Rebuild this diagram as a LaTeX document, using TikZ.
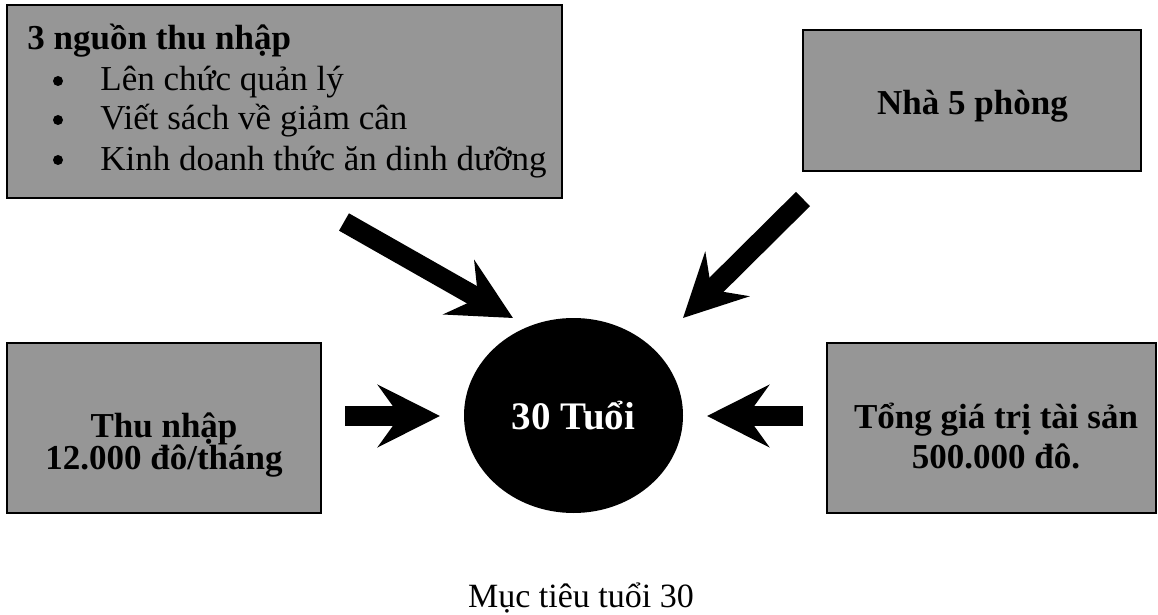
\documentclass[tikz,border=0pt]{standalone}
\usepackage{fontspec}
\setmainfont{Liberation Serif}
\usetikzlibrary{arrows.meta, shapes.geometric}
\definecolor{boxgray}{RGB}{150,150,150}

\begin{document}
\begin{tikzpicture}[x=0.5pt, y=-0.5pt,
        box/.style={draw, line width=1pt, fill=boxgray, inner sep=0pt},
        boxtext/.style={inner sep=0pt, anchor=base, font=\fontsize{17.5}{21}\selectfont\bfseries},
        listtext/.style={inner sep=0pt, anchor=base west, font=\fontsize{17.5}{21}\selectfont},
        listdot/.style={circle, fill=black, inner sep=0pt, minimum size=5pt},
        fat arrow/.style={line width=10pt, -{Stealth[length=31pt, width=31pt, inset=11pt]}}]

    \useasboundingbox (0,0) rectangle (1158,615);

    % the four goals
    \node[box, minimum width=277.5pt, minimum height=96.5pt] (incomes) at (284.5,101.5) {};
    \node[box, minimum width=169pt, minimum height=70.5pt] (house) at (972,100.5) {};
    \node[box, minimum width=157pt, minimum height=85pt] (salary) at (164,428) {};
    \node[box, minimum width=164.5pt, minimum height=85pt] (assets) at (991.5,428) {};
    \node[ellipse, fill=black, minimum width=109.5pt, minimum height=97.5pt, inner sep=0pt,
          text=white, font=\fontsize{19.5}{21}\selectfont\bfseries] (age) at (573.5,415.5) {30 Tuổi};

    % texts in the boxes
    \node[listtext, font=\fontsize{17.5}{21}\selectfont\bfseries] (incomestitle) at (27,50) {3 nguồn thu nhập};
    \foreach \item/\y in {Lên chức quản lý/91, Viết sách về giảm cân/130, Kinh doanh thức ăn dinh dưỡng/170} {
        \node[listdot] (dot\y) at (58,\y-10) {};
        \node[listtext] (item\y) at (100,\y) {\item};
    }
    \node[boxtext] (housetext) at (972.5,115) {Nhà 5 phòng};
    \node[boxtext] (salarytop) at (164,437) {Thu nhập};
    \node[boxtext] (salarybottom) at (164,469) {12.000 đô/tháng};
    \node[boxtext] (assetstop) at (996,428) {Tổng giá trị tài sản};
    \node[boxtext] (assetsbottom) at (996,468) {500.000 đô.};

    % arrows into the centre
    \coordinate (incomestail) at (344,222);
    \coordinate (incomestip) at (513,318);
    \coordinate (housetail) at (803,199);
    \coordinate (housetip) at (683,318);
    \coordinate (salarytail) at (345,416);
    \coordinate (salarytip) at (440,416);
    \coordinate (assetstail) at (803,416);
    \coordinate (assetstip) at (707,416);
    \draw[fat arrow] (incomestail) -- (incomestip);
    \draw[fat arrow] (housetail) -- (housetip);
    \draw[fat arrow] (salarytail) -- (salarytip);
    \draw[fat arrow] (assetstail) -- (assetstip);

    \node[inner sep=0pt, anchor=base, font=\fontsize{17}{21}\selectfont] (caption) at (581,607) {Mục tiêu tuổi 30};
\end{tikzpicture}
\end{document}
